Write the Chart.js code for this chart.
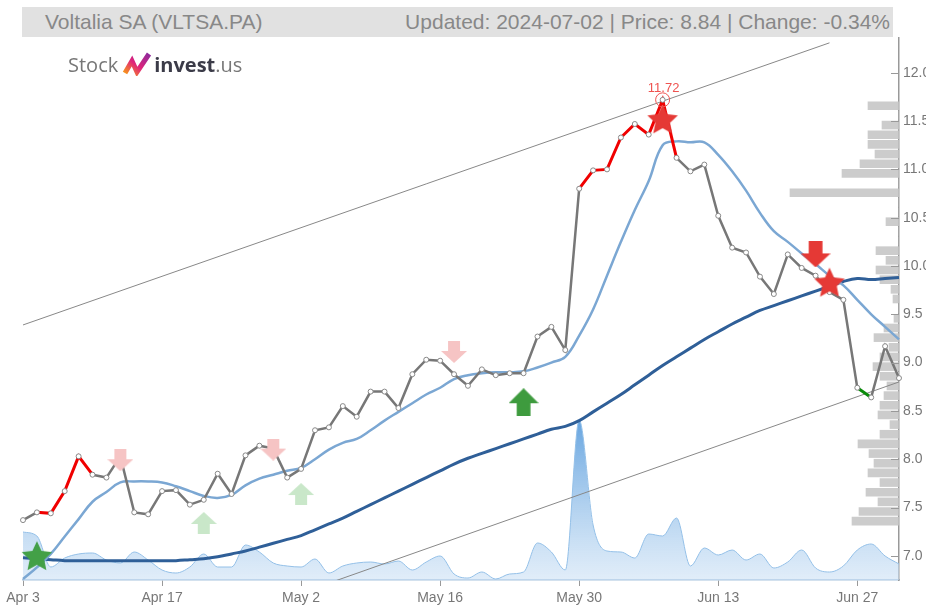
<!DOCTYPE html>
<html>
<head>
<meta charset="utf-8">
<script src="https://cdn.jsdelivr.net/npm/chart.js@4.4.1/dist/chart.umd.min.js"></script>
<style>
  html, body { margin: 0; padding: 0; background: #fff; }
  #wrap { position: relative; width: 926px; height: 610px; overflow: hidden; }
  #chart { position: absolute; left: 0; top: 0; }
  #titleBar {
    position: absolute; left: 22px; top: 7px; width: 871px; height: 30px;
    background: #e1e1e1; color: #888; line-height: 30px;
    font-family: "Liberation Sans", Arial, sans-serif; font-size: 21px;
  }
  #titleBar .l { position: absolute; left: 23px; }
  #titleBar .r { position: absolute; right: 3px; }
  #logo {
    position: absolute; left: 68px; top: 50px; height: 28px;
    font-family: "Open Sans", sans-serif; font-size: 20px; color: #777;
    display: flex; align-items: center; white-space: nowrap;
  }
  #logo svg { margin: 0 2px 0 4px; }
  #logo b { color: #3b3b48; font-weight: 700; }
</style>
</head>
<body>
<div id="wrap">
  <canvas id="chart" width="926" height="610"></canvas>
  <div id="titleBar"><span class="l">Voltalia SA (VLTSA.PA)</span><span class="r">Updated: 2024-07-02 | Price: 8.84 | Change: -0.34%</span></div>
  <div id="logo">Stock<svg width="30" height="24" viewBox="0 0 30 24">
      <defs><linearGradient id="lg" x1="0" y1="1" x2="1" y2="0">
        <stop offset="0" stop-color="#f7941d"/><stop offset="0.45" stop-color="#e0237a"/><stop offset="1" stop-color="#8e2a9c"/>
      </linearGradient></defs>
      <polyline points="3,21 10,9 15,20 27,2" fill="none" stroke="url(#lg)" stroke-width="5" stroke-linejoin="miter"/>
    </svg><b>invest</b>.us</div>
</div>
<script>
// trading days Apr 3 - Jul 2 2024
const labels = [
  "Apr 3", "Apr 4", "Apr 5", "Apr 8", "Apr 9", "Apr 10", "Apr 11", "Apr 12", "Apr 15", "Apr 16",
  "Apr 17", "Apr 18", "Apr 19", "Apr 22", "Apr 23", "Apr 24", "Apr 25", "Apr 26", "Apr 29", "Apr 30",
  "May 2", "May 3", "May 6", "May 7", "May 8", "May 9", "May 10", "May 13", "May 14", "May 15",
  "May 16", "May 17", "May 20", "May 21", "May 22", "May 23", "May 24", "May 27", "May 28", "May 29",
  "May 30", "May 31", "Jun 3", "Jun 4", "Jun 5", "Jun 6", "Jun 7", "Jun 10", "Jun 11", "Jun 12",
  "Jun 13", "Jun 14", "Jun 17", "Jun 18", "Jun 19", "Jun 20", "Jun 21", "Jun 24", "Jun 25", "Jun 26",
  "Jun 27", "Jun 28", "Jul 1", "Jul 2"
];

const closePrice = [
  7.37, 7.45, 7.44, 7.67, 8.03, 7.84, 7.81, 8.03, 7.45, 7.43,
  7.67, 7.68, 7.53, 7.58, 7.85, 7.64, 8.04, 8.14, 8.11, 7.81,
  7.90, 8.30, 8.33, 8.55, 8.44, 8.70, 8.70, 8.53, 8.88, 9.03,
  9.02, 8.88, 8.76, 8.93, 8.87, 8.89, 8.89, 9.27, 9.37, 9.13,
  10.80, 10.99, 11.00, 11.33, 11.47, 11.36, 11.72, 11.12, 10.98, 11.05,
  10.52, 10.19, 10.14, 9.89, 9.71, 10.12, 9.98, 9.90, 9.73, 9.65,
  8.74, 8.64, 9.17, 8.84
];

const maShort = [
  6.76, 6.88, 7.02, 7.20, 7.38, 7.56, 7.66, 7.76, 7.77, 7.77,
  7.76, 7.72, 7.67, 7.62, 7.60, 7.63, 7.73, 7.80, 7.84, 7.88,
  7.91, 8.00, 8.10, 8.17, 8.21, 8.30, 8.40, 8.49, 8.58, 8.67,
  8.74, 8.83, 8.87, 8.89, 8.90, 8.90, 8.91, 8.95, 9.00, 9.06,
  9.28, 9.55, 9.90, 10.25, 10.58, 10.88, 11.25, 11.29, 11.28, 11.28,
  11.15, 10.98, 10.78, 10.55, 10.36, 10.25, 10.13, 10.02, 9.90, 9.80,
  9.65, 9.50, 9.37, 9.24
];

const maLong = [
  6.98, 6.97, 6.96, 6.95, 6.95, 6.95, 6.95, 6.95, 6.95, 6.95,
  6.95, 6.95, 6.96, 6.97, 6.99, 7.02, 7.05, 7.09, 7.13, 7.17,
  7.21, 7.27, 7.33, 7.39, 7.46, 7.53, 7.60, 7.67, 7.74, 7.81,
  7.88, 7.95, 8.01, 8.06, 8.11, 8.16, 8.21, 8.26, 8.31, 8.34,
  8.40, 8.49, 8.58, 8.67, 8.77, 8.87, 8.97, 9.06, 9.15, 9.24,
  9.32, 9.40, 9.47, 9.54, 9.59, 9.64, 9.69, 9.74, 9.79, 9.84,
  9.87, 9.86, 9.87, 9.88
];

// relative daily volume
const volume = [
  48, 44, 13, 22, 26, 27, 20, 17, 28, 20,
  10, 7, 13, 26, 13, 13, 35, 28, 17, 14,
  13, 21, 7, 14, 17, 18, 16, 19, 10, 18,
  24, 6, 2, 8, 1, 6, 8, 37, 28, 10,
  160, 55, 29, 28, 22, 46, 44, 62, 14, 32,
  25, 30, 20, 26, 12, 18, 30, 12, 8, 14,
  30, 36, 24, 16
];

// volume by price level
const profileLevels = [
  7.4, 7.5, 7.6, 7.7, 7.8, 7.9, 8.0, 8.1, 8.2, 8.3,
  8.4, 8.5, 8.6, 8.7, 8.8, 8.9, 9.0, 9.1, 9.2, 9.3,
  9.4, 9.5, 9.6, 9.7, 9.8, 9.9, 10.0, 10.1, 10.2, 10.3,
  10.4, 10.5, 10.6, 10.7, 10.8, 10.9, 11.0, 11.1, 11.2, 11.3,
  11.4, 11.5, 11.6, 11.7
];
const profileVol = [
  47, 40, 21, 33, 19, 31, 25, 30, 41, 19,
  9, 21, 19, 15, 12, 19, 26, 19, 10, 25,
  15, 5, 0, 6, 8, 19, 23, 13, 23, 0,
  0, 13, 0, 0, 109, 0, 57, 39, 24, 31,
  31, 17, 0, 31
];

// trend channel
const upperTrendIdx = [0, 58];
const upperTrendVal = [9.39, 12.31];
const lowerTrendIdx = [0, 63];
const lowerTrendVal = [5.60, 8.80];

// signals
const faintDownIdx = [7, 18, 31];
const faintDownVal = [7.99, 8.10, 9.11];
const faintUpIdx = [13, 20];
const faintUpVal = [7.34, 7.64];
const buyIdx = [36];
const buyVal = [8.59];
const sellIdx = [57];
const sellVal = [10.12];
const greenStarIdx = [1];
const greenStarVal = [7.00];
const redStarIdx = [46, 58];
const redStarVal = [11.52, 9.83];
const maxIdx = 46;
const maxVal = 11.72;

// segments of the price line drawn in colour (start index of segment)
const redSegStart = [1, 2, 3, 4, 40, 41, 42, 43, 44, 45, 46];
const greenSegStart = [60];

function sparse(idx, vals) {
  const arr = labels.map(() => null);
  idx.forEach((k, j) => { arr[k] = vals[j]; });
  return arr;
}

function arrowImg(w, h, color, up) {
  const c = document.createElement("canvas");
  c.width = w; c.height = h;
  const g = c.getContext("2d");
  g.fillStyle = color;
  if (up) { g.translate(0, h); g.scale(1, -1); }
  const sw = w * 0.46;
  const sh = h * 0.5;
  g.fillRect((w - sw) / 2, 0, sw, sh);
  g.beginPath();
  g.moveTo(0, sh - 1);
  g.lineTo(w, sh - 1);
  g.lineTo(w / 2, h);
  g.closePath();
  g.fill();
  return c;
}

function starImg(r, color) {
  const c = document.createElement("canvas");
  c.width = r * 2; c.height = r * 2;
  const g = c.getContext("2d");
  g.fillStyle = color;
  g.beginPath();
  for (let k = 0; k < 10; k++) {
    const rr = k % 2 === 0 ? r : r * 0.48;
    const a = -Math.PI / 2 + k * Math.PI / 5;
    const px = r + rr * Math.cos(a);
    const py = r + rr * Math.sin(a) + r * 0.08;
    if (k === 0) g.moveTo(px, py); else g.lineTo(px, py);
  }
  g.closePath();
  g.fill();
  return c;
}

function markerSet(idx, vals, img) {
  return {
    type: "line", data: sparse(idx, vals), showLine: false,
    pointStyle: img, pointRadius: 12, order: 1
  };
}

const yTickMarks = {
  id: "yTickMarks",
  afterDraw(chart) {
    const s = chart.scales.y;
    const ctx = chart.ctx;
    ctx.save();
    ctx.strokeStyle = "#999";
    ctx.lineWidth = 1;
    s.ticks.forEach(t => {
      const py = Math.round(s.getPixelForValue(t.value)) + 0.5;
      ctx.beginPath();
      ctx.moveTo(s.left - 8, py);
      ctx.lineTo(s.left, py);
      ctx.stroke();
    });
    ctx.restore();
  }
};

const maxLabel = {
  id: "maxLabel",
  afterDatasetsDraw(chart) {
    const dsIndex = chart.data.datasets.findIndex(d => d.label === "max");
    const pt = chart.getDatasetMeta(dsIndex).data[maxIdx];
    const ctx = chart.ctx;
    ctx.save();
    ctx.fillStyle = "#ef5350";
    ctx.font = "13px 'Liberation Sans', Arial, sans-serif";
    ctx.textAlign = "center";
    ctx.textBaseline = "bottom";
    ctx.fillText(maxVal.toFixed(2), pt.x + 1, pt.y - 5);
    ctx.restore();
  }
};

Chart.defaults.font.family = "'Liberation Sans', Arial, sans-serif";

new Chart(document.getElementById("chart"), {
  type: "line",
  data: {
    labels: labels,
    datasets: [
      {
        label: "volume", data: volume, yAxisID: "yv",
        fill: "origin", borderColor: "#94c0e8", borderWidth: 1,
        backgroundColor: (ctx) => {
          const area = ctx.chart.chartArea;
          if (!area) return "rgba(200,222,243,0.6)";
          const s = ctx.chart.scales.yv;
          const gr = ctx.chart.ctx.createLinearGradient(0, area.bottom, 0, s.getPixelForValue(160));
          gr.addColorStop(0, "rgba(205,225,245,0.6)");
          gr.addColorStop(0.3, "rgba(170,205,238,0.7)");
          gr.addColorStop(1, "rgba(95,160,222,0.95)");
          return gr;
        },
        cubicInterpolationMode: "monotone", pointRadius: 0, order: 10
      },
      {
        type: "bar", label: "profile", indexAxis: "y",
        xAxisID: "xp", yAxisID: "y",
        data: profileLevels.map((p, k) => ({ x: profileVol[k], y: p })),
        backgroundColor: "rgba(195,195,195,0.85)",
        barThickness: 8, order: 9
      },
      {
        label: "upper", data: sparse(upperTrendIdx, upperTrendVal), spanGaps: true,
        borderColor: "#888", borderWidth: 1, pointRadius: 0, order: 8
      },
      {
        label: "lower", data: sparse(lowerTrendIdx, lowerTrendVal), spanGaps: true,
        borderColor: "#888", borderWidth: 1, pointRadius: 0, order: 8
      },
      {
        label: "maLong", data: maLong, borderColor: "#2f5f98", borderWidth: 3,
        tension: 0.4, pointRadius: 0, order: 7
      },
      {
        label: "maShort", data: maShort, borderColor: "#7ba7d3", borderWidth: 2.5,
        tension: 0.4, pointRadius: 0, order: 6
      },
      {
        label: "close", data: closePrice, borderColor: "#777", borderWidth: 2.5,
        tension: 0, pointRadius: 2.5, pointBackgroundColor: "#fff",
        pointBorderColor: "#888", pointBorderWidth: 1, order: 5,
        segment: {
          borderColor: (c) => redSegStart.includes(c.p0DataIndex) ? "#f00000"
            : greenSegStart.includes(c.p0DataIndex) ? "#0a8a0a" : undefined,
          borderWidth: (c) => (redSegStart.includes(c.p0DataIndex) || greenSegStart.includes(c.p0DataIndex)) ? 3 : undefined
        }
      },
      markerSet(faintDownIdx, faintDownVal, arrowImg(26, 22, "#f6c4c4", false)),
      markerSet(faintUpIdx, faintUpVal, arrowImg(26, 22, "#c9e7c9", true)),
      markerSet(buyIdx, buyVal, arrowImg(30, 28, "#3e9b3e", true)),
      markerSet(sellIdx, sellVal, arrowImg(30, 26, "#e53935", false)),
      markerSet(greenStarIdx, greenStarVal, starImg(16, "#43a047")),
      markerSet(redStarIdx, redStarVal, starImg(16, "#e53935")),
      {
        label: "max", data: sparse([maxIdx], [maxVal]), showLine: false,
        pointStyle: "circle", pointRadius: 7, pointBorderColor: "#ef5350",
        pointBackgroundColor: "rgba(0,0,0,0)", pointBorderWidth: 1, order: 0
      }
    ]
  },
  options: {
    responsive: false,
    animation: false,
    events: [],
    layout: { padding: { top: 38, left: 23, right: 0, bottom: 0 } },
    plugins: { legend: { display: false }, tooltip: { enabled: false } },
    scales: {
      x: {
        type: "category", offset: false,
        grid: { display: true, drawOnChartArea: false, drawTicks: true, tickLength: 6, color: "#999", offset: false },
        border: { display: true, color: "#a8c3de", width: 1.5 },
        ticks: { autoSkip: false, maxRotation: 0, color: "#777", font: { size: 14 }, padding: 4 },
        afterBuildTicks: (s) => { s.ticks = s.ticks.filter(t => t.value % 10 === 0); },
        afterFit: (s) => { s.height = 30; }
      },
      y: {
        type: "linear", position: "right", min: 6.75, max: 12.36, offset: false,
        grid: { display: false, drawTicks: false, offset: false },
        border: { display: true, color: "#999", width: 1.5 },
        ticks: {
          stepSize: 0.5, includeBounds: false, color: "#777", font: { size: 14 }, padding: 4,
          callback: (v) => Number(v).toFixed(1)
        },
        afterFit: (s) => { s.width = 27; }
      },
      yv: { axis: "y", type: "linear", display: false, min: 0, max: 542 },
      xp: { axis: "x", type: "linear", display: false, reverse: true, min: 0, max: 876 }
    }
  },
  plugins: [yTickMarks, maxLabel]
});
</script>
</body>
</html>
